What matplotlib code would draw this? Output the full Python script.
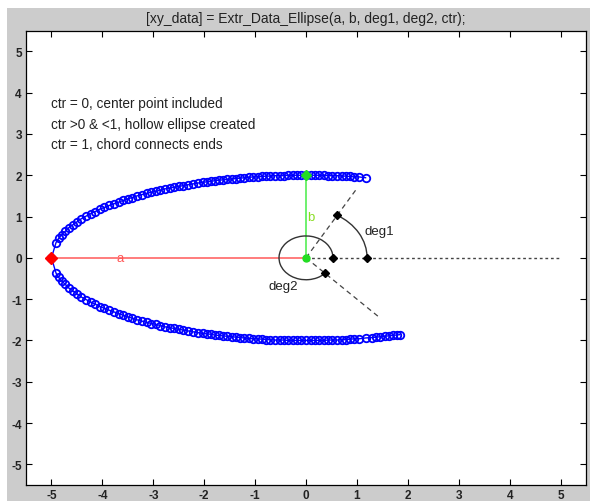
import matplotlib
matplotlib.use("Agg")
import matplotlib.pyplot as plt
from matplotlib.patches import Arc, Rectangle

plt.rcParams["font.family"] = ["Liberation Sans", "DejaVu Sans"]
plt.rcParams["axes.unicode_minus"] = False

# Upper half of the ellipse (a=5, b=2), from the deg1 end round to the left tip
upper_x = [1.17, 1.04, 0.95, 0.87, 0.78, 0.70, 0.61, 0.52, 0.44, 0.35, 0.26, 0.17, 0.09, 0.00,
           -0.09, -0.17, -0.26, -0.35, -0.44, -0.52, -0.61, -0.70, -0.78, -0.87, -0.95, -1.04,
           -1.12, -1.21, -1.29, -1.38, -1.46, -1.55, -1.63, -1.71, -1.79, -1.87, -1.95, -2.03,
           -2.13, -2.22, -2.32, -2.41, -2.50, -2.59, -2.68, -2.77, -2.86, -2.95, -3.04, -3.13,
           -3.23, -3.32, -3.41, -3.50, -3.59, -3.68, -3.77, -3.86, -3.96, -4.05, -4.14, -4.23,
           -4.32, -4.41, -4.49, -4.58, -4.66, -4.73, -4.80, -4.86, -4.91]
upper_y = [1.94, 1.96, 1.96, 1.97, 1.98, 1.98, 1.99, 1.99, 1.99, 2.00, 2.00, 2.00, 2.00, 2.00,
           2.00, 2.00, 2.00, 2.00, 1.99, 1.99, 1.99, 1.98, 1.98, 1.97, 1.96, 1.96,
           1.95, 1.94, 1.93, 1.92, 1.91, 1.90, 1.89, 1.88, 1.87, 1.85, 1.84, 1.83,
           1.81, 1.79, 1.77, 1.75, 1.73, 1.71, 1.69, 1.67, 1.64, 1.61, 1.59, 1.56,
           1.53, 1.50, 1.46, 1.43, 1.39, 1.35, 1.31, 1.27, 1.22, 1.18, 1.12, 1.07,
           1.01, 0.95, 0.88, 0.80, 0.73, 0.64, 0.56, 0.47, 0.37]

# Left tip of the ellipse
tip_x = [-5.0]
tip_y = [0.0]

# Lower half, from the left tip round to the deg2 end
lower_x = [-4.91, -4.86, -4.80, -4.73, -4.66, -4.58, -4.49, -4.41, -4.32, -4.23, -4.14, -4.05,
           -3.96, -3.86, -3.77, -3.68, -3.59, -3.50, -3.41, -3.32, -3.23, -3.13, -3.04, -2.95,
           -2.86, -2.77, -2.68, -2.59, -2.50, -2.41, -2.32, -2.22, -2.13, -2.03, -1.95, -1.87,
           -1.79, -1.71, -1.63, -1.55, -1.46, -1.38, -1.29, -1.21, -1.12, -1.04, -0.95, -0.87,
           -0.78, -0.70, -0.61, -0.52, -0.44, -0.35, -0.26, -0.17, -0.09, 0.00, 0.09, 0.17,
           0.26, 0.35, 0.44, 0.52, 0.61, 0.70, 0.78, 0.87, 0.95, 1.04, 1.17, 1.29, 1.38,
           1.46, 1.55, 1.63, 1.71, 1.79, 1.84]
lower_y = [-0.37, -0.47, -0.56, -0.64, -0.73, -0.80, -0.88, -0.95, -1.01, -1.07, -1.12, -1.18,
           -1.22, -1.27, -1.31, -1.35, -1.39, -1.43, -1.46, -1.50, -1.53, -1.56, -1.59, -1.61,
           -1.64, -1.67, -1.69, -1.71, -1.73, -1.75, -1.77, -1.79, -1.81, -1.83, -1.84, -1.85,
           -1.87, -1.88, -1.89, -1.90, -1.91, -1.92, -1.93, -1.94, -1.95, -1.96, -1.96, -1.97,
           -1.98, -1.98, -1.99, -1.99, -1.99, -2.00, -2.00, -2.00, -2.00, -2.00, -2.00, -2.00,
           -2.00, -2.00, -1.99, -1.99, -1.99, -1.98, -1.98, -1.97, -1.96, -1.96, -1.94, -1.93, -1.92,
           -1.91, -1.90, -1.89, -1.88, -1.87, -1.86]

# Ellipse parameters shown in the diagram
a = 5.0
b = 2.0
deg1 = 60
deg2 = 315
r_deg1 = 1.2
r_deg2 = 0.53

# Ends of the dashed direction lines for deg1 and deg2
ray1_end = (1.0, 1.68)
ray2_end = (1.43, -1.43)

notes = ["ctr = 0, center point included",
         "ctr >0 & <1, hollow ellipse created",
         "ctr = 1, chord connects ends"]
note_y = [3.75, 3.25, 2.75]

ticks = [-5, -4, -3, -2, -1, 0, 1, 2, 3, 4, 5]

fig = plt.figure(figsize=(5.9, 5.02), dpi=100, facecolor="white")
# grey figure panel
fig.patches.append(Rectangle((7 / 590, 0), 1, (502 - 9) / 502, transform=fig.transFigure,
                             facecolor="#cccccc", edgecolor="none", zorder=-10))
ax = fig.add_axes([26 / 590, 16 / 502, 560 / 590, 454.3 / 502])

# ellipse points
ax.plot(upper_x + tip_x + lower_x, upper_y + tip_y + lower_y, "-o", color="#0000ff",
        markerfacecolor="none", markersize=5.4, markeredgewidth=1.3, linewidth=1.0, zorder=3)

# semi-axis a
ax.plot([-a, 0], [0, 0], color="#ff6666", linewidth=1.2, zorder=4)
ax.plot([-a], [0], "D", color="#ff0000", markersize=6, zorder=6)
ax.text(-3.66, 0, "a", color="#ff5555", fontsize=9.5, ha="center", va="center", zorder=6)

# semi-axis b
ax.plot([0, 0], [0, b], color="#55ee55", linewidth=1.2, zorder=4)
ax.plot([0], [b], "D", color="#22dd22", markersize=5, zorder=6)
ax.plot([0], [0], "o", color="#22dd22", markersize=5, zorder=6)
ax.text(0.09, 0.98, "b", color="#88dd22", fontsize=9.5, ha="center", va="center", zorder=6)

# reference direction and the two angle rays
ax.plot([0, a], [0, 0], color="#444444", linestyle=(0, (2, 2)), linewidth=1.0, zorder=2)
ax.plot([0, ray1_end[0]], [0, ray1_end[1]], color="#444444", linestyle=(0, (4, 3)),
        linewidth=0.9, zorder=2)
ax.plot([0, ray2_end[0]], [0, ray2_end[1]], color="#444444", linestyle=(0, (4, 3)),
        linewidth=0.9, zorder=2)

# angle arcs
ax.add_patch(Arc((0, 0), 2 * r_deg1, 2 * r_deg1, theta1=0, theta2=deg1,
                 color="#333333", linewidth=1.0, zorder=4))
ax.add_patch(Arc((0, 0), 2 * r_deg2, 2 * r_deg2, theta1=0, theta2=deg2,
                 color="#333333", linewidth=1.0, zorder=4))
ax.plot([r_deg1, 0.6, r_deg2, 0.375], [0, 1.04, 0, -0.375], "D", color="black",
        markersize=4.5, zorder=6)
ax.text(1.44, 0.64, "deg1", color="#222222", fontsize=9.5, ha="center", va="center")
ax.text(-0.45, -0.67, "deg2", color="#222222", fontsize=9.5, ha="center", va="center")

for txt, yy in zip(notes, note_y):
    ax.text(-5.0, yy, txt, color="#222222", fontsize=9.8, ha="left", va="center")

ax.set_xlim(-5.5, 5.5)
ax.set_ylim(-5.5, 5.5)
ax.set_xticks(ticks)
ax.set_yticks(ticks)
ax.tick_params(direction="in", length=4, width=0.8, top=True, right=True,
               labelsize=8.5, labelcolor="#222222", pad=3)
for lbl in ax.get_xticklabels() + ax.get_yticklabels():
    lbl.set_fontweight("bold")
for s in ax.spines.values():
    s.set_linewidth(0.9)
ax.set_title("[xy_data] = Extr_Data_Ellipse(a, b, deg1, deg2, ctr);", fontsize=10,
             color="#222222", pad=6)

fig.savefig("out.png", dpi=100, facecolor=fig.get_facecolor())
